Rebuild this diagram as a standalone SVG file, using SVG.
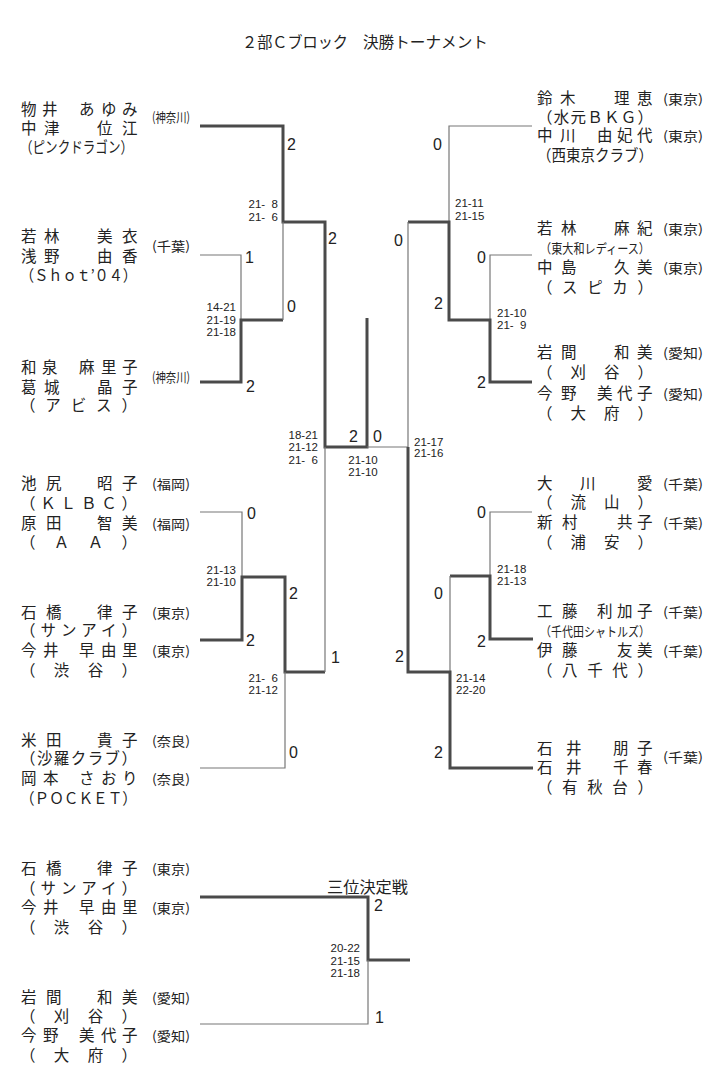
<svg xmlns="http://www.w3.org/2000/svg" width="720" height="1089" viewBox="0 0 720 1089">
<style>
.t{font-family:"Noto Sans CJK JP","Noto Sans CJK SC",sans-serif;font-size:15.5px;fill:#222}
.sm{font-size:13px}
.pf{font-family:"Noto Sans CJK JP",sans-serif;font-size:13px;fill:#222}
.s{font-family:"Liberation Sans",sans-serif;font-size:11.5px;fill:#222}
.n{font-family:"Liberation Sans",sans-serif;font-size:16px;fill:#222}
.k{stroke:#4a4a4a;stroke-width:3;fill:none}
.h{stroke:#777;stroke-width:1.2;fill:none}
</style>
<rect width="720" height="1089" fill="#fff"/>
<g id="title">
<text class="t" x="242" y="48" textLength="106" lengthAdjust="spacingAndGlyphs">２部Ｃブロック</text>
<text class="t" x="363" y="48" textLength="125" lengthAdjust="spacingAndGlyphs">決勝トーナメント</text>
</g>

<g id="connectors">
<path class="k" d="M200,126H283V222H325V447H367V318"/>
<path class="h" d="M200,255H241V320"/>
<path class="k" d="M200,382H241V320H283"/>
<path class="h" d="M283,320V222"/>
<path class="h" d="M200,512H242V577"/>
<path class="k" d="M200,640H242V577H285V672H325"/>
<path class="h" d="M200,768H285V672"/>
<path class="h" d="M325,672V447"/>
<path class="h" d="M367,447H408"/>
<path class="h" d="M532,126H449V222"/>
<path class="h" d="M532,255H490V320"/>
<path class="k" d="M532,382H490V320H449V222H408"/>
<path class="h" d="M408,222V447"/>
<path class="h" d="M532,512H490V576"/>
<path class="k" d="M533,639H490V576H450"/>
<path class="h" d="M450,576V672"/>
<path class="k" d="M533,768H450V672H408V447"/>
<path class="k" d="M200,897H368V960H410"/>
<path class="h" d="M200,1024H368V960"/>
</g>

<g id="scores">
<text class="n" x="287" y="150">2</text>
<text class="n" x="328" y="244">2</text>
<text class="n" x="245" y="263">1</text>
<text class="n" x="287" y="312">0</text>
<text class="n" x="246" y="392">2</text>
<text class="s" x="278" y="208" text-anchor="end">21-&#8199;8</text>
<text class="s" x="278" y="221" text-anchor="end">21-&#8199;6</text>
<text class="s" x="236" y="311" text-anchor="end">14-21</text>
<text class="s" x="236" y="324" text-anchor="end">21-19</text>
<text class="s" x="236" y="336" text-anchor="end">21-18</text>
<text class="s" x="318" y="439" text-anchor="end">18-21</text>
<text class="s" x="318" y="451" text-anchor="end">21-12</text>
<text class="s" x="318" y="464" text-anchor="end">21-&#8199;6</text>
<text class="n" x="247" y="519">0</text>
<text class="s" x="236" y="574" text-anchor="end">21-13</text>
<text class="s" x="236" y="586" text-anchor="end">21-10</text>
<text class="n" x="289" y="599">2</text>
<text class="n" x="246" y="646">2</text>
<text class="n" x="331" y="663">1</text>
<text class="s" x="278" y="682" text-anchor="end">21-&#8199;6</text>
<text class="s" x="278" y="694" text-anchor="end">21-12</text>
<text class="n" x="289" y="758">0</text>
<text class="n" x="349" y="442">2</text>
<text class="n" x="373" y="442">0</text>
<text class="s" x="363" y="464" text-anchor="middle">21-10</text>
<text class="s" x="363" y="476" text-anchor="middle">21-10</text>
<text class="s" x="414" y="446">21-17</text>
<text class="s" x="414" y="457">21-16</text>
<text class="n" x="433" y="150">0</text>
<text class="s" x="455" y="207">21-11</text>
<text class="s" x="455" y="220">21-15</text>
<text class="n" x="394" y="246">0</text>
<text class="n" x="477" y="263">0</text>
<text class="n" x="434" y="309">2</text>
<text class="s" x="497" y="317">21-10</text>
<text class="s" x="497" y="329">21-&#8199;9</text>
<text class="n" x="477" y="388">2</text>
<text class="n" x="477" y="518">0</text>
<text class="s" x="497" y="573">21-18</text>
<text class="s" x="497" y="585">21-13</text>
<text class="n" x="434" y="599">0</text>
<text class="n" x="477" y="647">2</text>
<text class="n" x="395" y="662">2</text>
<text class="s" x="456" y="682">21-14</text>
<text class="s" x="456" y="694">22-20</text>
<text class="n" x="434" y="758">2</text>
<text class="t" x="327" y="893" textLength="81" lengthAdjust="spacingAndGlyphs">三位決定戦</text>
<text class="n" x="374" y="911">2</text>
<text class="s" x="360" y="952" text-anchor="end">20-22</text>
<text class="s" x="360" y="965" text-anchor="end">21-15</text>
<text class="s" x="360" y="977" text-anchor="end">21-18</text>
<text class="n" x="375" y="1023">1</text>
</g>

<g id="L1">
<text class="t" x="21 42 79 101 122" y="115">物井あゆみ</text>
<text class="t" x="21 44 97 122" y="134">中津位江</text>
<text class="t" x="20" y="153" textLength="113" lengthAdjust="spacingAndGlyphs">（ピンクドラゴン）</text>
<text class="pf" x="152" y="122" textLength="38" lengthAdjust="spacingAndGlyphs">(神奈川)</text>
</g>
<g id="L2">
<text class="t" x="21 44 97 122" y="242">若林美衣</text>
<text class="t" x="21 44 97 122" y="262">浅野由香</text>
<text class="t" x="20" y="281" textLength="117" lengthAdjust="spacingAndGlyphs">（Ｓｈｏｔ’０４）</text>
<text class="pf" x="152" y="251" textLength="38" lengthAdjust="spacingAndGlyphs">(千葉)</text>
</g>
<g id="L3">
<text class="t" x="21 42 79 101 122" y="373">和泉麻里子</text>
<text class="t" x="21 44 97 122" y="393">葛城晶子</text>
<text class="t" x="20" y="411" textLength="117" lengthAdjust="spacing">（アビス）</text>
<text class="pf" x="152" y="382" textLength="38" lengthAdjust="spacingAndGlyphs">(神奈川)</text>
</g>
<g id="L4">
<text class="t" x="21 46 97 122" y="489">池尻昭子</text>
<text class="t" x="20" y="509" textLength="117" lengthAdjust="spacing">（ＫＬＢＣ）</text>
<text class="t" x="21 46 97 122" y="529">原田智美</text>
<text class="t" x="20" y="548" textLength="117" lengthAdjust="spacing">（ＡＡ）</text>
<text class="pf" x="152" y="489" textLength="38" lengthAdjust="spacingAndGlyphs">(福岡)</text>
<text class="pf" x="152" y="529" textLength="38" lengthAdjust="spacingAndGlyphs">(福岡)</text>
</g>
<g id="L5">
<text class="t" x="21 46 97 122" y="618">石橋律子</text>
<text class="t" x="20" y="636" textLength="117" lengthAdjust="spacing">（サンアイ）</text>
<text class="t" x="21 43 79 101 122" y="656">今井早由里</text>
<text class="t" x="20" y="676" textLength="117" lengthAdjust="spacing">（渋谷）</text>
<text class="pf" x="152" y="618" textLength="38" lengthAdjust="spacingAndGlyphs">(東京)</text>
<text class="pf" x="152" y="656" textLength="38" lengthAdjust="spacingAndGlyphs">(東京)</text>
</g>
<g id="L6">
<text class="t" x="21 46 97 122" y="746">米田貴子</text>
<text class="t" x="20" y="764" textLength="117" lengthAdjust="spacing">（沙羅クラブ）</text>
<text class="t" x="21 43 79 101 122" y="784">岡本さおり</text>
<text class="t" x="20" y="804" textLength="117" lengthAdjust="spacingAndGlyphs">（ＰＯＣＫＥＴ）</text>
<text class="pf" x="152" y="746" textLength="38" lengthAdjust="spacingAndGlyphs">(奈良)</text>
<text class="pf" x="152" y="784" textLength="38" lengthAdjust="spacingAndGlyphs">(奈良)</text>
</g>

<g id="R1">
<text class="t" x="537 560 614 637" y="104">鈴木理恵</text>
<text class="t" x="537" y="123" textLength="116" lengthAdjust="spacing">（水元ＢＫＧ）</text>
<text class="t" x="537 560 597 617 637" y="141">中川由妃代</text>
<text class="t" x="537" y="161" textLength="116" lengthAdjust="spacingAndGlyphs">（西東京クラブ）</text>
<text class="pf" x="663" y="104" textLength="40" lengthAdjust="spacingAndGlyphs">(東京)</text>
<text class="pf" x="663" y="141" textLength="40" lengthAdjust="spacingAndGlyphs">(東京)</text>
</g>
<g id="R2">
<text class="t" x="537 561 614 637" y="234">若林麻紀</text>
<text class="t sm" x="540" y="253" textLength="110" lengthAdjust="spacingAndGlyphs">（東大和レディース）</text>
<text class="t" x="537 561 614 637" y="273">中島久美</text>
<text class="t" x="537" y="293" textLength="116" lengthAdjust="spacing">（スピカ）</text>
<text class="pf" x="663" y="234" textLength="40" lengthAdjust="spacingAndGlyphs">(東京)</text>
<text class="pf" x="663" y="273" textLength="40" lengthAdjust="spacingAndGlyphs">(東京)</text>
</g>
<g id="R3">
<text class="t" x="537 561 614 637" y="358">岩間和美</text>
<text class="t" x="537" y="378" textLength="116" lengthAdjust="spacing">（刈谷）</text>
<text class="t" x="537 561 597 617 637" y="399">今野美代子</text>
<text class="t" x="537" y="419" textLength="116" lengthAdjust="spacing">（大府）</text>
<text class="pf" x="663" y="358" textLength="40" lengthAdjust="spacingAndGlyphs">(愛知)</text>
<text class="pf" x="663" y="399" textLength="40" lengthAdjust="spacingAndGlyphs">(愛知)</text>
</g>
<g id="R4">
<text class="t" x="537 580 637" y="489">大川愛</text>
<text class="t" x="537" y="508" textLength="116" lengthAdjust="spacing">（流山）</text>
<text class="t" x="537 562 617 637" y="528">新村共子</text>
<text class="t" x="537" y="548" textLength="116" lengthAdjust="spacing">（浦安）</text>
<text class="pf" x="663" y="489" textLength="40" lengthAdjust="spacingAndGlyphs">(千葉)</text>
<text class="pf" x="663" y="528" textLength="40" lengthAdjust="spacingAndGlyphs">(千葉)</text>
</g>
<g id="R5">
<text class="t" x="537 562 597 617 637" y="617">工藤利加子</text>
<text class="t sm" x="540" y="636" textLength="110" lengthAdjust="spacingAndGlyphs">（千代田シャトルズ）</text>
<text class="t" x="537 562 617 637" y="656">伊藤友美</text>
<text class="t" x="537" y="676" textLength="116" lengthAdjust="spacing">（八千代）</text>
<text class="pf" x="663" y="617" textLength="40" lengthAdjust="spacingAndGlyphs">(千葉)</text>
<text class="pf" x="663" y="656" textLength="40" lengthAdjust="spacingAndGlyphs">(千葉)</text>
</g>
<g id="R6">
<text class="t" x="537 566 613 637" y="754">石井朋子</text>
<text class="t" x="537 566 613 637" y="773">石井千春</text>
<text class="t" x="537" y="793" textLength="116" lengthAdjust="spacing">（有秋台）</text>
<text class="pf" x="663" y="762" textLength="40" lengthAdjust="spacingAndGlyphs">(千葉)</text>
</g>

<g id="B1">
<text class="t" x="21 46 97 122" y="874">石橋律子</text>
<text class="t" x="20" y="894" textLength="117" lengthAdjust="spacing">（サンアイ）</text>
<text class="t" x="21 43 79 101 122" y="913">今井早由里</text>
<text class="t" x="20" y="933" textLength="117" lengthAdjust="spacing">（渋谷）</text>
<text class="pf" x="152" y="874" textLength="38" lengthAdjust="spacingAndGlyphs">(東京)</text>
<text class="pf" x="152" y="913" textLength="38" lengthAdjust="spacingAndGlyphs">(東京)</text>
</g>
<g id="B2">
<text class="t" x="21 46 97 122" y="1003">岩間和美</text>
<text class="t" x="20" y="1022" textLength="117" lengthAdjust="spacing">（刈谷）</text>
<text class="t" x="21 43 79 101 122" y="1041">今野美代子</text>
<text class="t" x="20" y="1061" textLength="117" lengthAdjust="spacing">（大府）</text>
<text class="pf" x="152" y="1003" textLength="38" lengthAdjust="spacingAndGlyphs">(愛知)</text>
<text class="pf" x="152" y="1041" textLength="38" lengthAdjust="spacingAndGlyphs">(愛知)</text>
</g>
</svg>
